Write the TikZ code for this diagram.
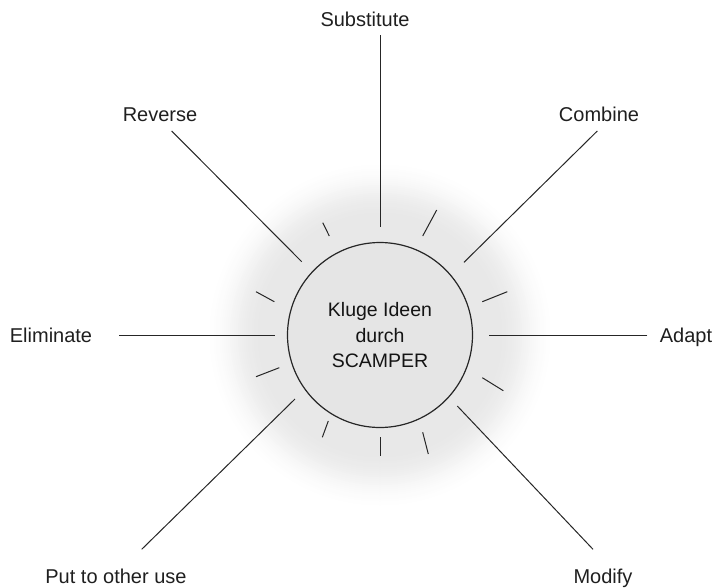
\documentclass[tikz,border=0pt]{standalone}
\usepackage{fontspec}
\setmainfont{Liberation Sans}
\begin{document}
\begin{tikzpicture}[x=1pt,y=-1pt,
  lbl/.style={anchor=base, inner sep=0pt, font=\fontsize{20}{24}\selectfont, text=black!88},
  ctext/.style={anchor=base, inner sep=0pt, font=\fontsize{19.5}{24}\selectfont, text=black!92},
  ray/.style={line width=1pt, draw=black!85},
  tick/.style={line width=1pt, draw=black!85},
  hub/.style={circle, draw=black!85, line width=1.2pt, fill=black!10, minimum size=185pt, inner sep=0pt}]
\useasboundingbox (0,0) rectangle (715,587);
% glow (soft halo round the hub)
\foreach \r in {178,176,...,94} {
  \pgfmathsetmacro\tt{min(1,max(0,(\r-118)/58))}
  \pgfmathsetmacro\vv{9*(1-\tt*\tt*(3-2*\tt))}
  \fill[black!\vv] (380,335) circle (\r);
}
% hub
\node[hub] (c) at (380,335) {};
\node[ctext] (k1) at (380,316) {Kluge Ideen};
\node[ctext] (k2) at (380,342.7) {durch};
\node[ctext] (k3) at (380,367.3) {SCAMPER};
% labels
\node[lbl] (sub) at (365,26) {Substitute};
\node[lbl] (rev) at (160,121) {Reverse};
\node[lbl] (com) at (599,121) {Combine};
\node[lbl] (eli) at (51,342) {Eliminate};
\node[lbl] (ada) at (686,342) {Adapt};
\node[lbl] (put) at (116,583) {Put to other use};
\node[lbl] (mod) at (603,583) {Modify};
% ray end points
\coordinate (subO) at (380,35);   \coordinate (subI) at (380,226.7);
\coordinate (revO) at (171.7,131); \coordinate (revI) at (301.7,261.7);
\coordinate (comO) at (597.3,131); \coordinate (comI) at (464,262.3);
\coordinate (eliO) at (119.3,335); \coordinate (eliI) at (275,335);
\coordinate (adaO) at (647.3,335); \coordinate (adaI) at (489.3,335);
\coordinate (putO) at (141.7,549.3); \coordinate (putI) at (295,399);
\coordinate (modO) at (593,549.3); \coordinate (modI) at (457.3,406);
\draw[ray] (subO) -- (subI);
\draw[ray] (revO) -- (revI);
\draw[ray] (comO) -- (comI);
\draw[ray] (eliO) -- (eliI);
\draw[ray] (adaO) -- (adaI);
\draw[ray] (putO) -- (putI);
\draw[ray] (modO) -- (modI);
% short ticks
\coordinate (ta1) at (322.7,222.7); \coordinate (tb1) at (329.3,236);
\coordinate (ta2) at (436.7,210);   \coordinate (tb2) at (422.7,236);
\coordinate (ta3) at (256,291.7);   \coordinate (tb3) at (274.3,301.7);
\coordinate (ta4) at (507.3,291.7); \coordinate (tb4) at (482.3,301.7);
\coordinate (ta5) at (256,376.7);   \coordinate (tb5) at (279.3,367.7);
\coordinate (ta6) at (482.3,377.7); \coordinate (tb6) at (503.3,390.7);
\coordinate (ta7) at (328.3,421);   \coordinate (tb7) at (322.3,437.3);
\coordinate (ta8) at (380,437.3);   \coordinate (tb8) at (380,456);
\coordinate (ta9) at (422.7,432.3); \coordinate (tb9) at (428.3,454);
\foreach \i in {1,...,9} \draw[tick] (ta\i) -- (tb\i);
\end{tikzpicture}
\end{document}
